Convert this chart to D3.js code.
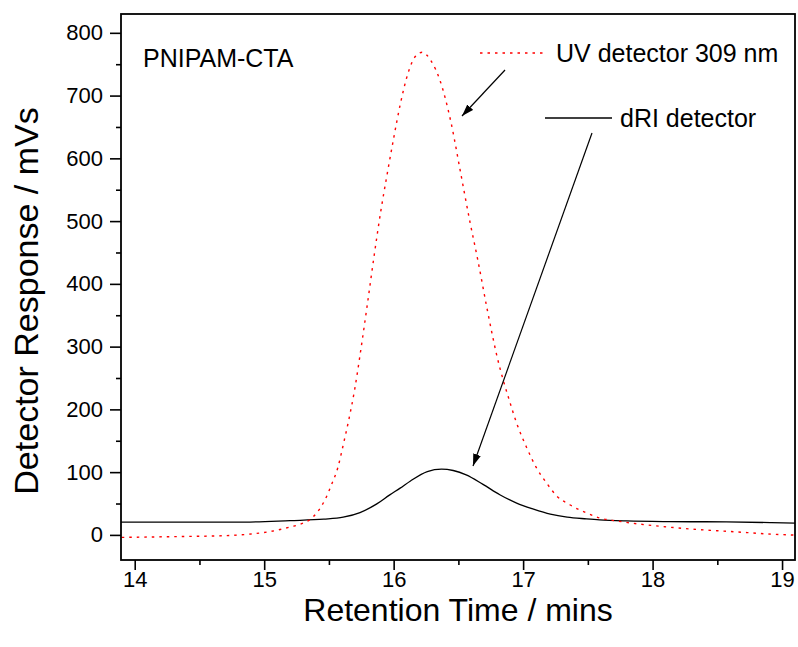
<!DOCTYPE html>
<html>
<head>
<meta charset="utf-8">
<script src="https://cdn.jsdelivr.net/npm/d3@7.9.0/dist/d3.min.js"></script>
<style>
  body { margin: 0; background: #fff; }
  svg text { font-family: "Liberation Sans", Arial, sans-serif; fill: #000; }
</style>
</head>
<body>
<div id="chart"></div>
<script>
// ---------------------------------------------------------
// Data
// ---------------------------------------------------------
const uvTime = [13.90, 14.32, 14.71, 14.90, 15.05, 15.17, 15.29, 15.35, 15.41, 15.47, 15.52, 15.57,
  15.61, 15.65, 15.70, 15.75, 15.80, 15.85, 15.90, 15.95, 16.00, 16.05, 16.11, 16.17, 16.22,
  16.29, 16.36, 16.44, 16.52, 16.59, 16.65, 16.72, 16.80, 16.90, 16.95, 17.03, 17.10, 17.18,
  17.26, 17.36, 17.49, 17.59, 17.73, 17.95, 18.13, 18.31, 18.52, 18.73, 18.88, 19.06, 19.10];
const uvSignal = [-4, -2.7, -1.2, 1.5, 5.5, 11, 18, 24, 36, 56, 80, 108,
  143, 180, 233, 300, 372, 446, 515, 575, 632, 685, 735, 763, 769,
  755, 723, 660, 574, 498, 438, 362, 283, 210, 178, 138, 108, 83,
  62, 48, 35, 27, 22, 16, 12.3, 9.1, 6.4, 3.7, 1.6, 0, -0.3];

const riTime = [13.89, 14.85, 15.20, 15.46, 15.61, 15.74, 15.87, 15.97, 16.05, 16.13,
  16.26, 16.37, 16.46, 16.56, 16.69, 16.82, 16.95, 17.08, 17.21, 17.34, 17.49, 17.59,
  17.80, 18.13, 18.57, 18.91, 19.10];
const riSignal = [20.3, 20.5, 22.8, 25, 28.2, 35.6, 49.4, 63.8, 74.5, 86,
  101, 104.8, 102.6, 95.7, 80.5, 64, 50.6, 41, 33, 28.2, 25.5, 24,
  22.3, 21.2, 20.7, 19.6, 18.6];

const xMajorTicks = [14, 15, 16, 17, 18, 19];
const xMinorTicks = [14.5, 15.5, 16.5, 17.5, 18.5];
const yMajorTicks = [0, 100, 200, 300, 400, 500, 600, 700, 800];
const yMinorTicks = [50, 150, 250, 350, 450, 550, 650, 750];

const uvData = uvTime.map((t, i) => ({ t, v: uvSignal[i] }));
const riData = riTime.map((t, i) => ({ t, v: riSignal[i] }));

// ---------------------------------------------------------
// Layout
// ---------------------------------------------------------
const width = 798;
const height = 647;
const margin = { top: 14, right: 3, bottom: 87, left: 121 };
const font = "'Liberation Sans', Arial, sans-serif";

const svg = d3.select("#chart")
  .append("svg")
  .attr("width", width)
  .attr("height", height);

const xScale = d3.scaleLinear()
  .domain([13.894, 19.1])
  .range([margin.left, width - margin.right]);

const yScale = d3.scaleLinear()
  .domain([-40, 830])
  .range([height - margin.bottom, margin.top]);

// clip so the lines stay inside the frame
svg.append("clipPath").attr("id", "plot-clip")
  .append("rect")
  .attr("x", margin.left)
  .attr("y", margin.top)
  .attr("width", width - margin.left - margin.right)
  .attr("height", height - margin.top - margin.bottom);

// --------------------------
// CURVES
// --------------------------
const line = d3.line()
  .x(d => xScale(d.t))
  .y(d => yScale(d.v))
  .curve(d3.curveMonotoneX);

const curves = svg.append("g").attr("clip-path", "url(#plot-clip)");

curves.append("path")
  .datum(riData)
  .attr("fill", "none")
  .attr("stroke", "#000")
  .attr("stroke-width", 1.3)
  .attr("d", line);

curves.append("path")
  .datum(uvData)
  .attr("fill", "none")
  .attr("stroke", "#ff0000")
  .attr("stroke-width", 1.4)
  .attr("stroke-dasharray", "2.5,5")
  .attr("d", line);

// --------------------------
// AXES
// --------------------------
const xAxis = svg.append("g")
  .attr("transform", `translate(0,${height - margin.bottom})`)
  .call(d3.axisBottom(xScale).tickValues(xMajorTicks).tickSize(10).tickPadding(1).tickFormat(d3.format("d")));
xAxis.append("g")
  .call(d3.axisBottom(xScale).tickValues(xMinorTicks).tickSize(5).tickFormat(""));

const yAxis = svg.append("g")
  .attr("transform", `translate(${margin.left},0)`)
  .call(d3.axisLeft(yScale).tickValues(yMajorTicks).tickSize(11).tickPadding(7));
yAxis.append("g")
  .call(d3.axisLeft(yScale).tickValues(yMinorTicks).tickSize(5).tickFormat(""));

svg.selectAll(".domain").remove();
svg.selectAll(".tick line").attr("stroke", "#000").attr("stroke-width", 1.6);
xAxis.selectAll(".tick text").style("font-family", font).style("font-size", "22px");
yAxis.selectAll(".tick text").style("font-family", font).style("font-size", "22px");

// frame
svg.append("rect")
  .attr("x", margin.left)
  .attr("y", margin.top)
  .attr("width", width - margin.left - margin.right)
  .attr("height", height - margin.top - margin.bottom)
  .attr("fill", "none")
  .attr("stroke", "#000")
  .attr("stroke-width", 1.8);

// axis titles
svg.append("text")
  .attr("x", (margin.left + width - margin.right) / 2)
  .attr("y", 621)
  .attr("text-anchor", "middle")
  .style("font-size", "32px")
  .text("Retention Time / mins");

svg.append("text")
  .attr("transform", "translate(38,301) rotate(-90)")
  .attr("text-anchor", "middle")
  .style("font-size", "34px")
  .text("Detector Response / mVs");

// --------------------------
// LABELS, LEGEND, ARROWS
// --------------------------
svg.append("text")
  .attr("x", 143)
  .attr("y", 67)
  .style("font-size", "25px")
  .text("PNIPAM-CTA");

svg.append("line")
  .attr("x1", 480).attr("x2", 545)
  .attr("y1", 53).attr("y2", 53)
  .attr("stroke", "#ff0000")
  .attr("stroke-width", 1.4)
  .attr("stroke-dasharray", "2.5,5");
svg.append("text")
  .attr("x", 556).attr("y", 62)
  .style("font-size", "25px")
  .text("UV detector 309 nm");

svg.append("line")
  .attr("x1", 545).attr("x2", 612)
  .attr("y1", 118).attr("y2", 118)
  .attr("stroke", "#000")
  .attr("stroke-width", 1.3);
svg.append("text")
  .attr("x", 620).attr("y", 127)
  .style("font-size", "25px")
  .text("dRI detector");

svg.append("defs").append("marker")
  .attr("id", "arrow")
  .attr("viewBox", "0 0 12 8")
  .attr("refX", 12)
  .attr("refY", 4)
  .attr("markerWidth", 12)
  .attr("markerHeight", 8)
  .attr("markerUnits", "userSpaceOnUse")
  .attr("orient", "auto")
  .append("path")
  .attr("d", "M0,0 L12,4 L0,8 Z")
  .attr("fill", "#000");

svg.append("line")
  .attr("x1", 505).attr("y1", 70)
  .attr("x2", 462).attr("y2", 116)
  .attr("stroke", "#000")
  .attr("stroke-width", 1.2)
  .attr("marker-end", "url(#arrow)");

svg.append("line")
  .attr("x1", 592).attr("y1", 133)
  .attr("x2", 473).attr("y2", 466)
  .attr("stroke", "#000")
  .attr("stroke-width", 1.2)
  .attr("marker-end", "url(#arrow)");
</script>
</body>
</html>
